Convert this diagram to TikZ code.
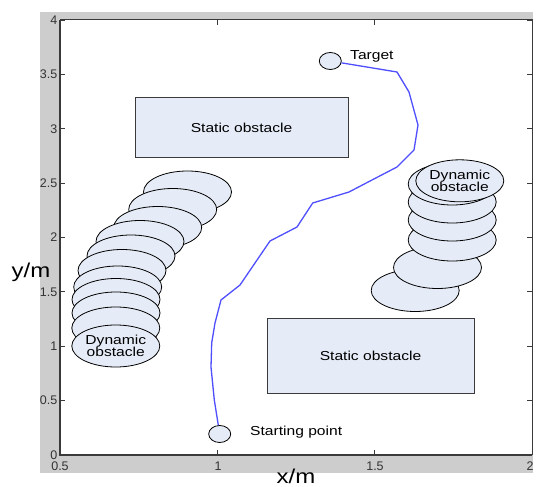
\documentclass[tikz,border=0pt]{standalone}
\usepackage{fontspec}
\newfontfamily\lab{Liberation Sans}[FakeStretch=1.2]
\newfontfamily\tickf{Liberation Sans}
\usetikzlibrary{shapes.geometric}
\definecolor{obfill}{HTML}{E6ECF7}
\definecolor{routeblue}{HTML}{4F4FFF}
\definecolor{panelgray}{HTML}{CDCDCD}
\definecolor{axisdark}{HTML}{3A3A3A}
\definecolor{ticktext}{HTML}{333333}
\begin{document}
\begin{tikzpicture}[x=1pt,y=-1pt,
  dyn/.style={ellipse, draw=black, line width=0.8pt, fill=obfill,
    minimum width=88pt, minimum height=42pt, inner sep=0pt,
    font=\lab\fontsize{13}{12.7}\selectfont, align=center},
  wall/.style={rectangle, draw=axisdark, line width=1pt, fill=obfill,
    inner sep=0pt, font=\lab\fontsize{13}{15}\selectfont},
  marker/.style={ellipse, draw=black, line width=0.8pt, fill=obfill,
    minimum width=22pt, minimum height=17pt, inner sep=0pt},
  tag/.style={font=\lab\fontsize{13}{15}\selectfont, inner sep=0pt},
  route/.style={draw=routeblue, line width=1.3pt, line join=round},
  ticklab/.style={font=\tickf\fontsize{12.5}{14}\selectfont, text=ticktext, inner sep=0pt},
  axlab/.style={font=\lab\fontsize{20}{22}\selectfont, inner sep=0pt},
  tickmark/.style={draw=axisdark, line width=0.9pt}]

\useasboundingbox (0,0) rectangle (536,487);
\fill[white] (0,0) rectangle (536,487);

% figure panel and plotting area
\fill[panelgray] (40,12) rectangle (533,473);
\fill[white] (60,20) rectangle (532,455);

% axes box
\draw[axisdark, line width=1pt] (60,20) -- (532,20) -- (532,455);
\draw[axisdark, line width=1.6pt] (60,20) -- (60,455) -- (532,455);

% y ticks and labels (0 .. 4 m)
\foreach \v/\t in {0.5/0.5,1/1,1.5/1.5,2/2,2.5/2.5,3/3,3.5/3.5,4/4}{
  \pgfmathsetmacro{\py}{455-108.75*\v}
  \draw[tickmark] (60,\py) -- (65,\py);
  \draw[tickmark] (532,\py) -- (527,\py);
  \node[ticklab, anchor=east] (yt\t) at (57.5,\py) {\t};
}
\node[ticklab, anchor=east] (yt0) at (57.5,455) {0};

% x ticks and labels (0.5 .. 2 m)
\foreach \v/\t in {0.5/0.5,1/1,1.5/1.5,2/2}{
  \pgfmathsetmacro{\px}{60+314.67*(\v-0.5)}
  \draw[tickmark] (\px,455) -- (\px,450);
  \draw[tickmark] (\px,20) -- (\px,25);
}
\node[ticklab] (xt05) at (60,466) {0.5};
\node[ticklab] (xt1) at (218,466) {1};
\node[ticklab] (xt15) at (375,466) {1.5};
\node[ticklab] (xt2) at (530,466) {2};

% axis titles
\node[axlab, anchor=base] (xlab) at (296,483) {x/m};
\node[axlab] (ylab) at (31,272) {y/m};

% static obstacles
\node[wall, minimum width=213pt, minimum height=59pt] (s1) at (241.5,127.5) {Static obstacle};
\node[wall, minimum width=207pt, minimum height=75pt] (s2) at (370.5,355.5) {Static obstacle};

% dynamic obstacle on the left, later positions drawn first
\node[dyn] (l1) at (187.5,192) {};
\node[dyn] (l2) at (172.7,209.5) {};
\node[dyn] (l3) at (157.7,227.5) {};
\node[dyn] (l4) at (140,241.5) {};
\node[dyn] (l5) at (131,256) {};
\node[dyn] (l6) at (122,270.5) {};
\node[dyn] (l7) at (117.7,287) {};
\node[dyn] (l8) at (116,299.5) {};
\node[dyn] (l9) at (116,313) {};
\node[dyn] (l10) at (115.8,328) {};
\node[dyn] (l11) at (115.8,346) {Dynamic\\obstacle};

% dynamic obstacle on the right
\node[dyn] (r1) at (415.2,290.5) {};
\node[dyn] (r2) at (437.5,267.5) {};
\node[dyn] (r3) at (452.2,240) {};
\node[dyn] (r4) at (452.2,220) {};
\node[dyn] (r5) at (452.2,202) {};
\node[dyn] (r6) at (452.2,184) {};
\node[dyn] (r7) at (459.8,180.8) {Dynamic\\obstacle};

% start and goal
\node[marker] (start) at (219.7,434) {};
\node[marker] (target) at (330.3,61) {};
\node[tag, anchor=base west] (startlab) at (250,435) {Starting point};
\node[tag, anchor=base west] (targetlab) at (350,59.3) {Target};

% planned route
\draw[route] (start) -- (214.3,400) -- (211,367) -- (211.7,343) -- (215,323)
  -- (221,300) -- (240,285) -- (270,241) -- (297,227) -- (312.7,203)
  -- (349,192) -- (372,180) -- (397,167) -- (414,150) -- (418,125)
  -- (409,92) -- (397,72) -- (target);
\end{tikzpicture}
\end{document}
